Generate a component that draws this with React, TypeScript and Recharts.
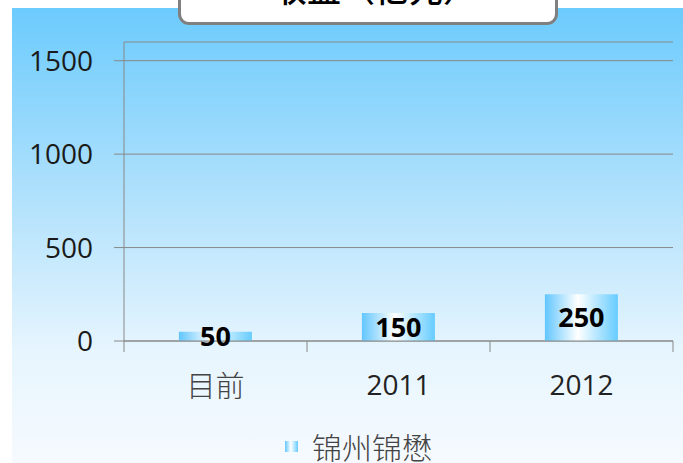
import React from "react";
import { BarChart, Bar, XAxis, YAxis, CartesianGrid, LabelList } from "recharts";

const categories = ["目前", "2011", "2012"];
const revenue = [50, 150, 250];
const yTicks = [0, 500, 1000, 1500];
const seriesName = "锦州锦懋";
const title = "收益（亿元）";

const data = categories.map((name, i) => ({ name, value: revenue[i] }));

const FONT = "'Open Sans', 'Noto Sans CJK SC', sans-serif";
const CJK = "'Noto Sans CJK SC', sans-serif";
const BAND = 549 / categories.length;

// x tick: label in the middle of the band, tick marks on the band edges
const XTick = (props: any) => {
  const { x, y, payload, index } = props;
  const half = payload?.offset || BAND / 2;
  const isCjk = /[^\x00-\x7f]/.test(String(payload.value));
  return (
    <g>
      <line x1={x - half} x2={x - half} y1={y} y2={y + 11} stroke="#888" />
      {index === categories.length - 1 && (
        <line x1={x + half} x2={x + half} y1={y} y2={y + 11} stroke="#888" />
      )}
      <text
        x={x}
        y={y + 43}
        textAnchor="middle"
        dominantBaseline="central"
        fontSize={isCjk ? 29 : 28}
        fontFamily={isCjk ? CJK : FONT}
        fontWeight={isCjk ? 300 : 400}
        fill={isCjk ? "#444" : "#222"}
      >
        {payload.value}
      </text>
    </g>
  );
};

export default function App() {
  return (
    <div style={{ position: "absolute", left: 0, top: 0, width: 683, height: 463, overflow: "hidden", background: "#fff" }}>
      <div
        style={{
          position: "absolute",
          left: 12,
          top: 8,
          right: 0,
          bottom: 0,
          background: "linear-gradient(to bottom, #6ccbfd 0%, #b6e3fc 45%, #e6f5fe 75%, #f6fafe 100%)",
        }}
      />
      <div
        style={{
          position: "absolute",
          left: 178,
          top: -25,
          width: 374,
          height: 44,
          border: "3px solid #808080",
          borderRadius: 11,
          background: "#fff",
          overflow: "hidden",
        }}
      >
        <div
          style={{
            position: "absolute",
            left: 0,
            right: 0,
            bottom: 17,
            textAlign: "center",
            fontFamily: CJK,
            fontSize: 34,
            fontWeight: 500,
            lineHeight: "34px",
            color: "#000",
            paddingLeft: 14,
          }}
        >
          {title}
        </div>
      </div>
      <div style={{ position: "absolute", left: 0, top: 0 }}>
        <BarChart
          width={683}
          height={463}
          data={data}
          margin={{ top: 42, right: 10, left: 0, bottom: 0 }}
          barCategoryGap="30%"
        >
          <defs>
            <linearGradient id="barFill" x1="0" y1="0" x2="1" y2="0">
              <stop offset="0%" stopColor="#62c6ff" />
              <stop offset="45%" stopColor="#ffffff" />
              <stop offset="100%" stopColor="#66ccff" />
            </linearGradient>
          </defs>
          <CartesianGrid vertical={false} stroke="#888" />
          <XAxis
            dataKey="name"
            height={122}
            axisLine={{ stroke: "#888" }}
            tickLine={false}
            tickSize={0}
            tickMargin={0}
            tick={<XTick />}
            interval={0}
          />
          <YAxis
            width={124}
            domain={[0, 1600]}
            ticks={yTicks}
            axisLine={{ stroke: "#888" }}
            tickLine={{ stroke: "#888" }}
            tickSize={10}
            tickMargin={21}
            tick={{ fontSize: 28, fill: "#1a1a1a", fontFamily: FONT }}
          />
          <Bar dataKey="value" name={seriesName} fill="url(#barFill)" isAnimationActive={false}>
            <LabelList
              dataKey="value"
              position="center"
              fill="#000"
              fontSize={27}
              fontWeight={700}
              fontFamily={FONT}
            />
          </Bar>
        </BarChart>
      </div>
      <div
        style={{
          position: "absolute",
          left: 285,
          top: 429,
          display: "flex",
          alignItems: "center",
          height: 34,
        }}
      >
        <span
          style={{
            display: "inline-block",
            width: 13,
            height: 11,
            background: "linear-gradient(to right, #62c6ff, #ffffff 45%, #66ccff)",
            marginRight: 14,
          }}
        />
        <span style={{ fontFamily: CJK, fontSize: 30, fontWeight: 300, color: "#444", lineHeight: "34px" }}>
          {seriesName}
        </span>
      </div>
    </div>
  );
}
